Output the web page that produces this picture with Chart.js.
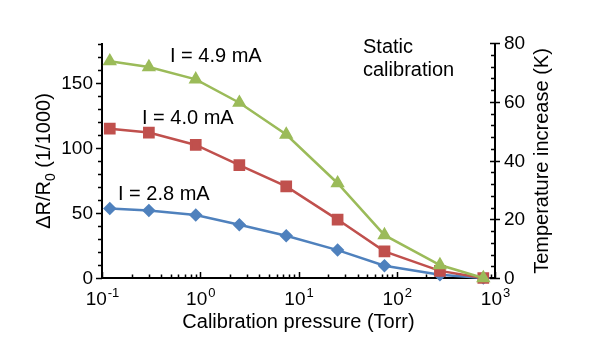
<!DOCTYPE html>
<html>
<head>
<meta charset="utf-8">
<script src="https://cdn.jsdelivr.net/npm/chart.js@4/dist/chart.umd.min.js"></script>
<style>
  html, body { margin: 0; padding: 0; background: #fff; }
  canvas { display: block; }
</style>
</head>
<body>
<canvas id="calibChart" width="610" height="351"></canvas>
<script>
let calibChart = document.querySelector("#calibChart");

// calibration pressure (Torr) and dR/R0 (1/1000) per heater current
let pressure = [0.12, 0.3, 0.9, 2.5, 7.5, 25, 75, 275, 760];
let dr49 = [167, 162.5, 153, 135, 110.5, 73, 33, 10, 0];
let dr40 = [115, 112, 102.5, 87, 70.5, 45, 20.5, 5.5, 0];
let dr28 = [53.5, 52, 48.5, 41, 32.5, 21.5, 9.5, 2.5, 0];
let seriesLabels = ["I = 4.9 mA", "I = 4.0 mA", "I = 2.8 mA"];

let leftTicks = [0, 50, 100, 150];
let rightTicks = [0, 20, 40, 60, 80];
let xDecades = [-1, 0, 1, 2, 3];

const FONT = "'Liberation Sans', Arial, Helvetica, sans-serif";

let toPoints = (ys) => pressure.map((p, i) => ({ x: p, y: ys[i] }));

// axes, ticks, labels are drawn by hand from the chart's own scales
const axesPlugin = {
  id: "axes",
  beforeDatasetsDraw(chart) {
    const { ctx, chartArea: a, scales } = chart;
    const x = scales.x, y = scales.y, y2 = scales.y2;
    ctx.save();
    ctx.strokeStyle = "#000";
    ctx.lineWidth = 2;
    ctx.beginPath();
    ctx.moveTo(a.left, a.top);
    ctx.lineTo(a.left, a.bottom);
    ctx.lineTo(a.right, a.bottom);
    ctx.lineTo(a.right, a.top);
    ctx.stroke();

    ctx.lineWidth = 1.5;
    ctx.beginPath();
    // left ticks
    for (let v = 0; v <= 180; v += 10) {
      const py = Math.round(y.getPixelForValue(v)) + 0.5;
      const len = v % 50 === 0 ? 6 : 4;
      ctx.moveTo(a.left - len, py);
      ctx.lineTo(a.left, py);
    }
    // right ticks
    for (let v = 0; v <= 80; v += 4) {
      const py = Math.round(y2.getPixelForValue(v)) + 0.5;
      if (v % 20 === 0) {
        ctx.moveTo(a.right - 5, py);
        ctx.lineTo(a.right + 5, py);
      } else {
        ctx.moveTo(a.right - 4, py);
        ctx.lineTo(a.right, py);
      }
    }
    // log x ticks
    for (let d = -1; d <= 2; d++) {
      for (let m = 1; m <= 9; m++) {
        const px = Math.round(x.getPixelForValue(m * Math.pow(10, d))) + 0.5;
        const len = m === 1 ? 6 : 3.5;
        ctx.moveTo(px, a.bottom - len);
        ctx.lineTo(px, a.bottom);
      }
    }
    const pEnd = Math.round(x.getPixelForValue(1000)) + 0.5;
    ctx.moveTo(pEnd, a.bottom - 6);
    ctx.lineTo(pEnd, a.bottom);
    ctx.stroke();

    ctx.fillStyle = "#000";
    ctx.font = "19px " + FONT;
    ctx.textBaseline = "middle";
    ctx.textAlign = "right";
    leftTicks.forEach((v) => ctx.fillText(String(v), a.left - 9, y.getPixelForValue(v) + 1));
    ctx.textAlign = "left";
    rightTicks.forEach((v) => ctx.fillText(String(v), a.right + 9, y2.getPixelForValue(v) + 1));

    // x labels 10^n
    ctx.textBaseline = "alphabetic";
    xDecades.forEach((d) => {
      const px = x.getPixelForValue(Math.pow(10, d));
      ctx.font = "19px " + FONT;
      const wBase = ctx.measureText("10").width;
      ctx.font = "13px " + FONT;
      const wExp = ctx.measureText(String(d)).width;
      const start = px - (wBase + wExp) / 2;
      ctx.font = "19px " + FONT;
      ctx.fillText("10", start, a.bottom + 27);
      ctx.font = "13px " + FONT;
      ctx.fillText(String(d), start + wBase + 1, a.bottom + 19);
    });

    // x title
    ctx.font = "20px " + FONT;
    ctx.textAlign = "center";
    ctx.fillText("Calibration pressure (Torr)", (a.left + a.right) / 2, a.bottom + 50);

    // left title with subscript
    ctx.save();
    ctx.translate(50, 161);
    ctx.rotate(-Math.PI / 2);
    ctx.textAlign = "left";
    const partA = "\u0394R/R", sub = "0", partB = " (1/1000)";
    ctx.font = "20px " + FONT;
    const wa = ctx.measureText(partA).width, wb = ctx.measureText(partB).width;
    ctx.font = "14px " + FONT;
    const ws = ctx.measureText(sub).width;
    let sx = -(wa + ws + wb) / 2;
    ctx.font = "20px " + FONT;
    ctx.fillText(partA, sx, 0);
    ctx.font = "14px " + FONT;
    ctx.fillText(sub, sx + wa, 5);
    ctx.font = "20px " + FONT;
    ctx.fillText(partB, sx + wa + ws, 0);
    ctx.restore();

    // right title
    ctx.save();
    ctx.translate(548, 161);
    ctx.rotate(-Math.PI / 2);
    ctx.textAlign = "center";
    ctx.font = "20px " + FONT;
    ctx.fillText("Temperature increase (K)", 0, 0);
    ctx.restore();

    ctx.restore();
  },
  afterDraw(chart) {
    const { ctx } = chart;
    ctx.save();
    ctx.fillStyle = "#000";
    ctx.font = "20px " + FONT;
    ctx.textAlign = "left";
    ctx.textBaseline = "alphabetic";
    ctx.fillText(seriesLabels[0], 170, 62);
    ctx.fillText(seriesLabels[1], 142, 124);
    ctx.fillText(seriesLabels[2], 118, 200);
    ctx.fillText("Static", 363, 53);
    ctx.fillText("calibration", 363, 76);
    ctx.restore();
  },
};

new Chart(calibChart, {
  type: "line",
  data: {
    datasets: [
      {
        label: seriesLabels[0],
        data: toPoints(dr49),
        borderColor: "#9BBB59",
        backgroundColor: "#9BBB59",
        pointStyle: "triangle",
        pointRadius: 5.8,
        borderWidth: 2.5,
        clip: false,
      },
      {
        label: seriesLabels[1],
        data: toPoints(dr40),
        borderColor: "#C0504D",
        backgroundColor: "#C0504D",
        pointStyle: "rect",
        pointRadius: 6.5,
        borderWidth: 2.5,
        clip: false,
      },
      {
        label: seriesLabels[2],
        data: toPoints(dr28),
        borderColor: "#4F81BD",
        backgroundColor: "#4F81BD",
        pointStyle: "rectRot",
        pointRadius: 5,
        borderWidth: 2.5,
        clip: false,
      },
    ],
  },
  options: {
    responsive: false,
    animation: false,
    layout: {
      padding: { left: 102, right: 115, top: 43, bottom: 73 },
    },
    elements: {
      line: { tension: 0, fill: false },
      point: { borderWidth: 1 },
    },
    scales: {
      x: { type: "logarithmic", min: 0.1, max: 1000, display: false },
      y: { type: "linear", min: 0, max: 181, display: false },
      y2: { type: "linear", position: "right", min: 0, max: 80, display: false },
    },
    plugins: {
      legend: { display: false },
      tooltip: { enabled: false },
    },
  },
  plugins: [axesPlugin],
});
</script>
</body>
</html>
